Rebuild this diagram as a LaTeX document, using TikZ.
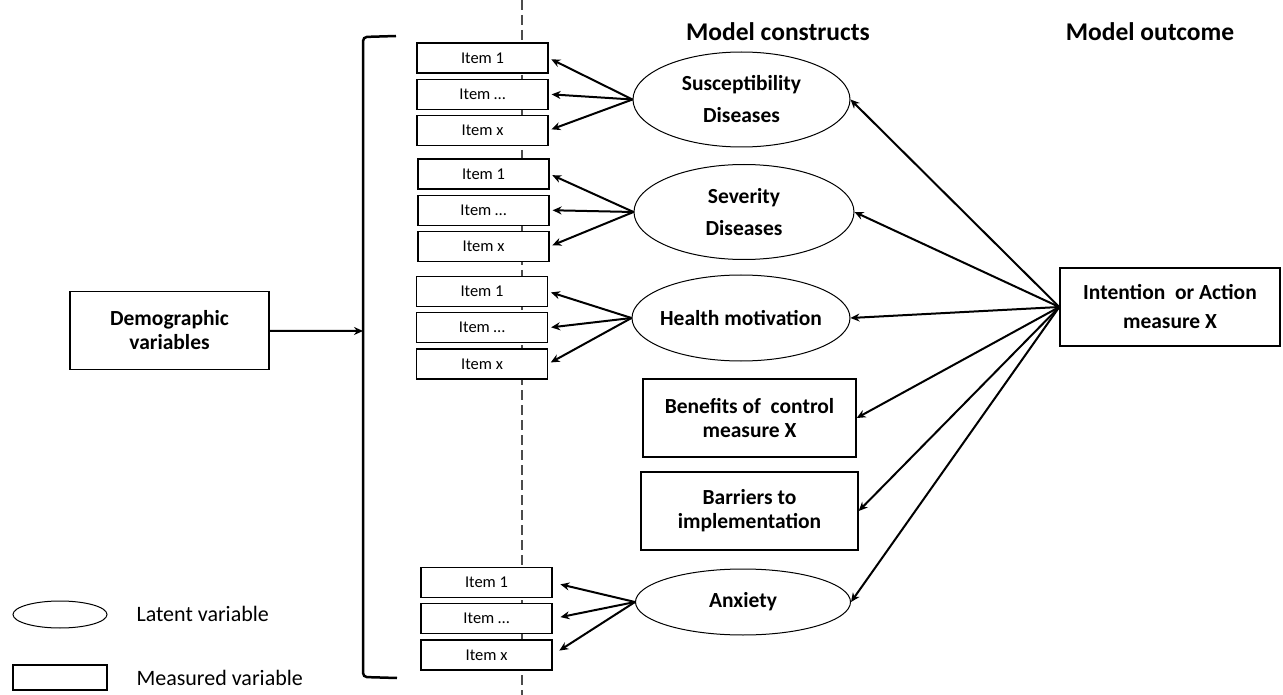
\documentclass[tikz,border=0pt]{standalone}
\usepackage{fontspec}
\setmainfont{Carlito}
\usetikzlibrary{arrows.meta,positioning,shapes.geometric}

\begin{document}
\begin{tikzpicture}[>={Stealth[length=9pt,width=8pt]},x=1pt,y=-1pt,node distance=5pt]
  \tikzstyle{item}=[draw,line width=1.2pt,fill=white,minimum width=131pt,minimum height=30pt,inner sep=0pt,font=\fontsize{16.5}{18}\selectfont]
  \tikzstyle{latent}=[ellipse,draw,line width=1pt,fill=white,inner xsep=-25pt,inner ysep=0pt,align=center,font=\bfseries\fontsize{21.5}{32}\selectfont]
  \tikzstyle{measured}=[draw,line width=1.4pt,fill=white,inner sep=0pt,minimum height=78pt,align=center,font=\bfseries\fontsize{21.5}{24}\selectfont]
  \tikzstyle{head}=[font=\bfseries\fontsize{25.5}{28}\selectfont]
  \tikzstyle{link}=[->,line width=2pt]
  \useasboundingbox (0,0) rectangle (1283,695);
  % dashed separator
  \draw[gray!60!black,line width=1.2pt,dash pattern=on 10pt off 5pt] (522,0) -- (522,695);
  % headers
  \node[head] (hcon) at (778,32) {Model constructs};
  \node[head] (hout) at (1150,32) {Model outcome};
  % demographic variables and bracket
  \node[measured,minimum width=199pt] (demo) at (169.5,330.5) {Demographic\\variables};
  \coordinate (brk) at (363,331);
  \draw[line width=2.5pt,rounded corners=4pt] (396,36) -- (363,37) -- (363,677) -- (397,678);
  \draw[->,line width=2pt] (demo) -- (brk);
  % items
  \node[item] (i11) at (482.5,58) {Item 1};
  \node[item,below=of i11] (i12) {Item \dots};
  \node[item,below=of i12] (i13) {Item x};
  \node[item] (i21) at (483.5,174) {Item 1};
  \node[item,below=of i21] (i22) {Item \dots};
  \node[item,below=of i22] (i23) {Item x};
  \node[item] (i31) at (482,291.5) {Item 1};
  \node[item,below=of i31] (i32) {Item \dots};
  \node[item,below=of i32] (i33) {Item x};
  \node[item] (i41) at (486.5,582.5) {Item 1};
  \node[item,below=of i41] (i42) {Item \dots};
  \node[item,below=of i42] (i43) {Item x};
  % constructs
  \node[latent,minimum width=217pt,minimum height=95pt] (sus) at (741.5,99.5) {Susceptibility\\Diseases};
  \node[latent,minimum width=220pt,minimum height=95pt] (sev) at (744,212) {Severity\\Diseases};
  \node[latent,minimum width=218pt,minimum height=86pt] (hea) at (741,318) {Health motivation};
  \node[measured,minimum width=213pt] (ben) at (749.5,418) {Benefits of~ control\\measure X};
  \node[measured,minimum width=217pt] (bar) at (749.5,511) {Barriers to\\implementation};
  \node[latent,minimum width=215pt,minimum height=66pt] (anx) at (743,602) {Anxiety};
  % outcome
  \node[measured,minimum width=220pt,font=\bfseries\fontsize{21.5}{29}\selectfont] (out) at (1170,307) {Intention~ or Action\\measure X};
  % legend
  \node[ellipse,draw,line width=1pt,minimum width=94pt,minimum height=27pt] (lat) at (60,614.5) {};
  \node[draw,line width=1.2pt,minimum width=94pt,minimum height=25pt] (mea) at (60,677.5) {};
  \node[anchor=west,font=\fontsize{22}{24}\selectfont] (latt) at (133,614) {Latent variable};
  \node[anchor=west,font=\fontsize{22}{24}\selectfont] (meat) at (133,678) {Measured variable};
  % loadings
  \draw[link,shorten >=3pt] (sus.west) -- (i11.east);
  \draw[link,shorten >=3pt] (sus.west) -- (i12.east);
  \draw[link,shorten >=3pt] (sus.west) -- (i13.east);
  \draw[link,shorten >=3pt] (sev.west) -- (i21.east);
  \draw[link,shorten >=3pt] (sev.west) -- (i22.east);
  \draw[link,shorten >=3pt] (sev.west) -- (i23.east);
  \draw[link,shorten >=3pt] (hea.west) -- (i31.east);
  \draw[link,shorten >=3pt] (hea.west) -- (i32.east);
  \draw[link,shorten >=3pt] (hea.west) -- (i33.east);
  \draw[link,shorten >=8pt] (anx.west) -- (i41.east);
  \draw[link,shorten >=8pt] (anx.west) -- (i42.east);
  \draw[link,shorten >=8pt] (anx.west) -- (i43.east);
  % paths to outcome
  \draw[link] (out.west) -- (sus.east);
  \draw[link] (out.west) -- (sev.east);
  \draw[link] (out.west) -- (hea.east);
  \draw[link] (out.west) -- (ben.east);
  \draw[link] (out.west) -- (bar.east);
  \draw[link] (out.west) -- (anx.east);
\end{tikzpicture}
\end{document}
